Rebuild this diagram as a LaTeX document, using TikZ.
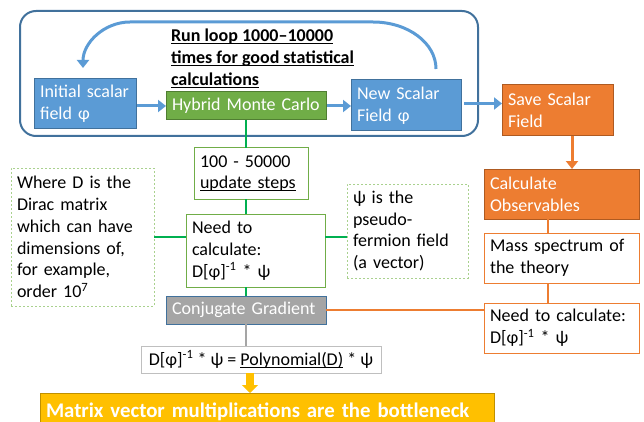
\documentclass[tikz,border=0pt]{standalone}
\usepackage{fontspec}
\setmainfont{Carlito}
\usetikzlibrary{arrows.meta,calc}
\definecolor{bfill}{HTML}{5B9BD5}
\definecolor{bdraw}{HTML}{41719C}
\definecolor{gfill}{HTML}{70AD47}
\definecolor{gdraw}{HTML}{507E32}
\definecolor{gline}{HTML}{00B050}
\definecolor{gdash}{HTML}{A9D18E}
\definecolor{ofill}{HTML}{ED7D31}
\definecolor{odraw}{HTML}{AE5A21}
\definecolor{grfill}{HTML}{A5A5A5}
\definecolor{grdraw}{HTML}{BFBFBF}
\definecolor{goldf}{HTML}{FFC000}
\definecolor{goldd}{HTML}{BF9000}
\newcommand\ulx[1]{\leavevmode\setbox0\hbox{#1}\rlap{\rule[-2.2pt]{\wd0}{0.9pt}}\box0\relax}
\newcommand\ulb[1]{\leavevmode\setbox0\hbox{#1}\rlap{\rule[-2.6pt]{\wd0}{1.3pt}}\box0\relax}
\begin{document}
\begin{tikzpicture}[x=1pt,y=-1pt,
  every node/.style={font=\fontsize{18}{21.7}\selectfont, inner sep=0pt, outer sep=0pt},
  box/.style={draw, line width=1pt, anchor=north west, align=left, inner xsep=6pt, inner ysep=0pt},
  bluebox/.style={box, fill=bfill, draw=bdraw, text=white},
  greenbox/.style={box, fill=gfill, draw=gdraw, text=white},
  orangebox/.style={box, fill=ofill, draw=odraw, text=white},
  gbox/.style={box, draw=gfill},
  obox/.style={box, draw=ofill},
  dashbox/.style={box, draw=gdash, dash pattern=on 2pt off 2pt},
  barrow/.style={draw=bfill, line width=3pt, -{Triangle[length=8pt,width=12pt]}},
  oarrow/.style={draw=ofill, line width=3pt, -{Triangle[length=8pt,width=12pt]}},
  gconn/.style={draw=gline, line width=1.5pt},
  oconn/.style={draw=ofill, line width=1.5pt},
  grconn/.style={draw=grfill, line width=1.5pt},
  goldarrow/.style={draw=goldf, line width=8pt, -{Triangle[length=8pt,width=16pt]}}
]
\useasboundingbox (0,0) rectangle (644,422);

% loop frame
\node[draw=bdraw, line width=2pt, rounded corners=16pt, anchor=north west,
      minimum width=458pt, minimum height=125pt] (frame) at (20,11) {};

\node[anchor=north west, align=left, font=\bfseries\fontsize{18}{21.8}\selectfont] (title) at (171,29)
  {\ulb{Run loop 1000–10000}\\\ulb{times for good statistical}\\\ulb{calculations}};

\node[bluebox, minimum width=102pt, minimum height=50pt, text width=90pt] (init) at (34,79) {Initial scalar\\field φ};
\node[greenbox, minimum width=160pt, minimum height=28pt, text width=148pt] (hmc) at (166,92) {Hybrid Monte Carlo};
\node[bluebox, minimum width=110pt, minimum height=51pt, text width=98pt] (new) at (351,80) {New Scalar\\Field φ};
\node[orangebox, minimum width=111pt, minimum height=51pt, text width=99pt] (save) at (502,85) {Save Scalar\\Field};

\node[gbox, minimum width=114pt, minimum height=51pt, text width=102pt] (steps) at (194,148) {100 - 50000\\\ulx{update steps}};
\node[dashbox, minimum width=143pt, minimum height=138pt, text width=131pt] (whered) at (11,168)
  {Where D is the\\Dirac matrix\\which can have\\dimensions of,\\for example,\\order 10\textsuperscript{7}};
\node[gbox, minimum width=139pt, minimum height=73pt, text width=127pt] (need) at (186,214) {Need to\\calculate:\\D[φ]\textsuperscript{-1} * ψ};
\node[dashbox, minimum width=121pt, minimum height=94pt, text width=109pt] (psi) at (347,184) {ψ is the\\pseudo-\\fermion field\\(a vector)};

\node[orangebox, minimum width=155pt, minimum height=50pt, text width=143pt] (calc) at (484,169) {Calculate\\Observables};
\node[obox, minimum width=155pt, minimum height=50pt, text width=143pt] (mass) at (484,233) {Mass spectrum of\\the theory};
\node[obox, minimum width=155pt, minimum height=50pt, text width=143pt] (rneed) at (484,303) {Need to calculate:\\D[φ]\textsuperscript{-1} * ψ};

\node[box, fill=grfill, draw=bdraw, text=white, minimum width=160pt, minimum height=28pt, text width=148pt] (cg) at (166,296) {Conjugate Gradient};
\node[box, draw=grdraw, minimum width=240pt, minimum height=27pt] (formula) at (141,346)
  {D[φ]\textsuperscript{-1} * ψ = \ulx{Polynomial(D)} * ψ};
\node[box, fill=goldf, draw=goldd, text=white, font=\bfseries\fontsize{20.8}{24}\selectfont,
      minimum width=454pt, minimum height=37pt, text width=442pt] (bottle) at (40,393)
  {Matrix vector multiplications are the bottleneck};

% coordinates
\coordinate (ls) at (436,69);
\coordinate (le) at (83,68);
\coordinate (ox) at (572,0);
\coordinate (ox2) at (548,0);
\coordinate (gx) at (250,0);
\coordinate (na) at ($(new.east)+(0,-2)$);

% loop arrow
\draw[barrow] (ls) .. controls (436,43) and (408,22) .. (373,22) -- (130,22) .. controls (104,22) and (83,43) .. (le);

% blue arrows
\draw[barrow, shorten <=1pt] (init.east |- hmc.west) -- (hmc.west);
\draw[barrow, shorten <=1pt] (hmc.east) -- (new.west |- hmc.east);
\draw[barrow, shorten <=3pt] (na) -- (save.west |- na);
\draw[oarrow] (save.south -| ox) -- (calc.north -| ox);

% green connectors
\draw[gconn] (hmc.south) -- (hmc.south |- steps.north);
\draw[gconn] (hmc.south |- steps.south) -- (hmc.south |- need.north);
\draw[gconn] (hmc.south |- need.south) -- (cg.north);
\draw[gconn] (whered.east) -- (need.west |- whered.east);
\draw[gconn] (need.east |- whered.east) -- (psi.west |- whered.east);

% orange connectors
\draw[oconn] (calc.south -| ox2) -- (mass.north -| ox2);
\draw[oconn] (mass.south -| ox2) -- (rneed.north -| ox2);
\draw[oconn] (cg.east) -- (rneed.west |- cg.east);

% grey and gold
\draw[grconn] (cg.south) -- (cg.south |- formula.north);
\draw[goldarrow] (formula.south -| gx) -- (bottle.north -| gx);
\end{tikzpicture}
\end{document}
